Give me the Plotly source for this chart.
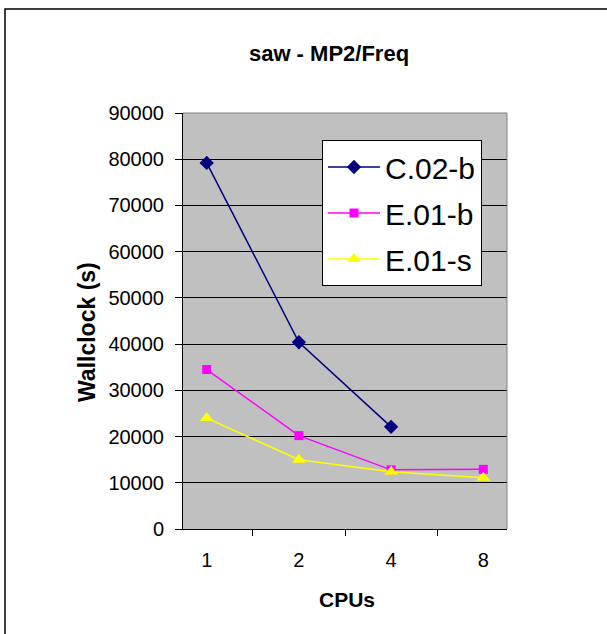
import plotly.graph_objects as go

cpus = ["1", "2", "4", "8"]
c02b = [79200, 40400, 22100, None]
e01b = [34500, 20200, 12800, 12900]
e01s = [24000, 15000, 12400, 11100]

W, H = 607, 634
L, R, T, B = 183, 507, 113, 529

def px(x):
    return (x - L) / (R - L)

def py(y):
    return (B - y) / (B - T)

fig = go.Figure()
fig.add_trace(go.Scatter(x=cpus, y=c02b, name="C.02-b", mode="lines+markers",
                         legendgroup="a",
                         line=dict(color="#000080", width=1.5),
                         marker=dict(symbol="diamond", size=11, color="#000080")))
fig.add_trace(go.Scatter(x=cpus, y=e01b, name="E.01-b", mode="lines+markers",
                         legendgroup="b",
                         line=dict(color="#FF00FF", width=1.5),
                         marker=dict(symbol="square", size=9, color="#FF00FF")))
fig.add_trace(go.Scatter(x=cpus, y=e01s, name="E.01-s", mode="lines+markers",
                         legendgroup="c",
                         line=dict(color="#FFFF00", width=1.5),
                         marker=dict(symbol="triangle-up", size=12, color="#FFFF00")))

fig.update_layout(
    width=W, height=H,
    margin=dict(l=L, r=W - R, t=T, b=H - B, pad=0),
    paper_bgcolor="white",
    plot_bgcolor="#C0C0C0",
    font=dict(family="Liberation Sans, Arial, sans-serif", color="black", size=20),
    title=dict(text="<b>saw - MP2/Freq</b>", x=329 / W, xanchor="center",
               y=1 - 53 / H, yanchor="middle", font=dict(size=22)),
    showlegend=True,
    legend=dict(x=px(322), y=py(140), xanchor="left", yanchor="top",
                bgcolor="white", bordercolor="black", borderwidth=1,
                font=dict(size=30), itemwidth=52, tracegroupgap=4),
    xaxis=dict(type="category", categoryorder="array", categoryarray=cpus,
               showgrid=False, ticks="outside", tickson="boundaries",
               ticklen=6, tickcolor="black", showline=True, linecolor="black",
               linewidth=1, mirror=False, ticklabelstandoff=13,
               tickfont=dict(size=20)),
    yaxis=dict(range=[0, 90000], dtick=10000, tick0=0, tickformat="d",
               showgrid=True, gridcolor="black", gridwidth=1,
               ticks="outside", ticklen=7, tickcolor="black",
               showline=True, linecolor="black", linewidth=1,
               zeroline=False, ticklabelstandoff=7,
               tickfont=dict(size=20)),
    annotations=[
        dict(text="<b>CPUs</b>", xref="paper", yref="paper", x=px(347), y=py(599),
             xanchor="center", yanchor="middle", showarrow=False, font=dict(size=21)),
        dict(text="<b>Wallclock (s)</b>", xref="paper", yref="paper", x=px(87), y=py(332),
             xanchor="center", yanchor="middle", showarrow=False, textangle=-90,
             font=dict(size=23)),
    ],
)

# plot area right/top border (gray)
fig.add_shape(type="line", xref="paper", yref="paper", x0=1, x1=1, y0=0, y1=1,
              line=dict(color="#808080", width=1))
fig.add_shape(type="line", xref="paper", yref="paper", x0=0, x1=1, y0=1, y1=1,
              line=dict(color="#808080", width=1))
# outer chart border
fig.add_shape(type="rect", xref="paper", yref="paper",
              x0=px(5), x1=px(640), y0=py(660), y1=py(9),
              line=dict(color="black", width=1.5), layer="below")

fig.write_html("out.html")
